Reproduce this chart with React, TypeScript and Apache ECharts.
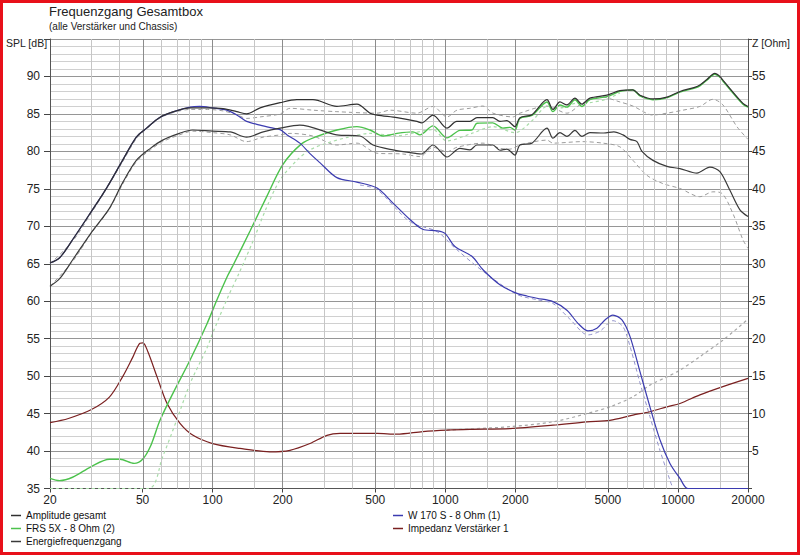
import React, { useEffect, useRef } from "react";
import * as echarts from "echarts";

// ---------- data (frequency in Hz, level in dB / impedance in Ohm) ----------
const FREQ_LABELS = [20, 50, 100, 200, 500, 1000, 2000, 5000, 10000, 20000];
const GRID_MAJOR = [50, 100, 200, 500, 1000, 2000, 5000, 10000];
const GRID_MINOR = [30, 40, 60, 70, 80, 90, 150, 300, 400, 600, 700, 800, 900, 1500, 3000, 4000, 6000, 7000, 8000, 9000, 15000];

const ampGesamt: [number, number][] = [
  [20, 65.1], [22, 65.8], [25, 68.2], [30, 71.9], [35, 75.1], [41, 78.8], [47, 81.9], [52, 83.1], [59, 84.5], [68, 85.3],
  [80, 85.8], [95, 85.8], [111, 85.7], [127, 85.3], [140, 85.0], [160, 85.8], [195, 86.5], [230, 86.9], [270, 86.9], [342, 86.0],
  [417, 86.3], [475, 85.1], [509, 84.85], [620, 84.5], [755, 84.0], [790, 83.8], [885, 84.85], [1017, 83.1], [1120, 84.0], [1276, 84.0],
  [1368, 84.5], [1600, 84.5], [1717, 84.0], [1840, 84.1], [1992, 83.3], [2093, 84.5], [2357, 84.9], [2735, 86.9], [2902, 85.6], [3110, 86.6],
  [3333, 86.2], [3608, 87.1], [3866, 86.3], [4184, 87.1], [4950, 87.5], [5632, 88.1], [6400, 88.2], [6866, 87.5], [7806, 87.0], [8967, 87.25],
  [10200, 88.0], [11800, 88.55], [12424, 88.86], [13314, 89.6], [14400, 90.4], [15144, 90.0], [15600, 89.5], [17226, 87.9], [19022, 86.4], [20000, 86.0],
];

const energie: [number, number][] = [
  [20, 62.0], [22, 63.0], [25, 65.5], [30, 69.1], [36, 72.4], [41, 75.8], [47, 78.8], [54, 80.4], [61, 81.5], [72, 82.4],
  [82, 82.85], [100, 82.7], [119, 82.6], [140, 81.9], [165, 82.6], [195, 83.1], [237, 83.5], [342, 82.2], [430, 82.05], [489, 80.85],
  [596, 80.2], [755, 79.7], [790, 79.65], [885, 80.85], [1017, 79.25], [1156, 80.4], [1276, 80.2], [1368, 80.85], [1600, 80.85], [1717, 80.15],
  [1840, 80.3], [1992, 79.5], [2093, 80.85], [2357, 81.1], [2735, 83.1], [2902, 81.75], [3110, 82.5], [3333, 82.0], [3608, 82.8], [3866, 82.0],
  [4184, 82.5], [4800, 82.45], [5300, 82.6], [5802, 82.2], [6219, 81.6], [6664, 81.3], [7003, 80.0], [7806, 78.8], [8967, 78.0], [10200, 77.7],
  [12060, 77.1], [13716, 77.9], [15144, 77.3], [16722, 74.8], [18465, 72.2], [20000, 71.3],
];

const w170: [number, number][] = [
  [20, 65.1], [22, 65.8], [25, 68.2], [30, 71.9], [35, 75.1], [41, 78.8], [47, 81.9], [52, 83.1], [59, 84.5], [68, 85.3],
  [80, 85.9], [88, 86.0], [100, 85.8], [115, 85.5], [128, 84.8], [140, 84.0], [160, 83.5], [182, 83.1], [195, 82.9], [209, 82.2],
  [237, 81.1], [262, 79.7], [289, 78.5], [342, 76.5], [417, 75.9], [509, 75.1], [596, 73.1], [705, 70.9], [800, 69.6], [921, 69.4],
  [997, 69.05], [1100, 67.3], [1301, 66.0], [1452, 64.2], [1717, 62.2], [2032, 61.05], [2243, 60.7], [2477, 60.4], [2902, 59.95], [3333, 58.8],
  [3716, 57.05], [4102, 56.05], [4484, 56.4], [4854, 57.5], [5254, 58.15], [5745, 57.5], [6219, 55.3], [6866, 50.6], [7577, 45.9], [8366, 41.5],
  [9238, 38.35], [10200, 36.35], [11032, 35.0], [20000, 35.0],
];

const frs: [number, number][] = [
  [20, 36.35], [22, 36.05], [25, 36.5], [30, 37.9], [36, 38.9], [40, 38.9], [46, 38.35], [50, 38.9], [54, 40.6], [59.4, 44.1],
  [67.5, 47.7], [80, 52.15], [94.6, 57.0], [104.4, 60.2], [116, 63.4], [122, 64.7], [145, 69.4], [171, 74.0], [200, 78.2], [241, 81.0],
  [281, 82.0], [342, 82.85], [417, 83.3], [475, 82.85], [540, 82.05], [620, 82.4], [726, 82.6], [778, 82.2], [885, 83.4], [1017, 81.8],
  [1156, 82.8], [1300, 82.85], [1368, 83.75], [1600, 83.8], [1768, 83.1], [1896, 83.2], [1992, 82.85], [2093, 84.4], [2357, 84.8], [2735, 86.6],
  [2902, 85.3], [3110, 86.2], [3333, 85.9], [3608, 86.9], [3866, 86.0], [4184, 86.9], [4950, 87.3], [5632, 88.0], [6400, 88.2], [6866, 87.4],
  [7806, 86.9], [8967, 87.15], [10200, 87.9], [11800, 88.45], [12424, 88.75], [13314, 89.5], [14400, 90.3], [15144, 89.9], [15600, 89.4], [17226, 87.8],
  [19022, 86.3], [20000, 85.9],
];

const impedanz: [number, number][] = [
  [20, 8.8], [24, 9.35], [30, 10.5], [36, 12.2], [41, 14.9], [45.5, 17.6], [48.7, 19.4], [50.2, 19.45], [52.7, 18.25], [57.7, 14.9],
  [63.7, 11.35], [72.4, 8.7], [82.4, 7.1], [100, 6.0], [131, 5.35], [176, 4.9], [215, 5.1], [262, 6.0], [310, 7.1], [353, 7.35],
  [509, 7.35], [620, 7.25], [800, 7.6], [1017, 7.8], [1276, 7.9], [1896, 8.0], [2902, 8.45], [4062, 8.9], [5100, 9.1], [6405, 9.8],
  [7577, 10.25], [8967, 10.9], [10200, 11.35], [12424, 12.5], [15600, 13.6], [20000, 14.7],
];

// reference (dashed / dotted) curves
const ampRef: [number, number][] = [
  [20, 65.0], [25, 68.0], [30, 71.7], [35, 75.0], [41, 78.6], [47, 81.7], [52, 83.0], [59, 84.4], [68, 85.2], [80, 85.6],
  [95, 85.6], [111, 85.4], [127, 84.9], [140, 84.4], [160, 84.6], [195, 85.0], [215, 85.75], [270, 85.5], [342, 85.3], [509, 85.1],
  [578, 85.5], [755, 85.1], [885, 86.0], [1017, 84.6], [1122, 85.5], [1276, 85.75], [1452, 86.05], [1603, 85.1], [1953, 84.6], [2093, 85.1],
  [2735, 86.05], [3333, 85.1], [3866, 86.4], [4620, 87.3], [5632, 86.6], [6405, 86.05], [7806, 84.85], [8967, 85.1], [10506, 85.5], [12424, 86.0],
  [14128, 86.95], [15600, 86.2], [17924, 83.3], [20000, 81.6],
];

const energieRef: [number, number][] = [
  [20, 62.0], [25, 65.3], [30, 69.0], [36, 72.3], [41, 75.6], [47, 78.6], [54, 80.2], [61, 81.3], [72, 82.2], [82, 82.7],
  [100, 82.5], [119, 82.2], [140, 81.3], [165, 81.9], [195, 82.2], [215, 82.4], [270, 82.05], [342, 80.85], [417, 81.1], [509, 79.75],
  [658, 79.65], [778, 79.3], [885, 80.55], [1017, 79.95], [1122, 80.55], [1452, 81.1], [1717, 80.4], [1896, 80.3], [2093, 80.85], [2735, 81.5],
  [2902, 81.1], [3866, 81.3], [4759, 81.1], [5632, 80.6], [6405, 78.8], [7355, 76.8], [8618, 75.7], [10200, 75.05], [12424, 73.95], [14128, 74.6],
  [15447, 74.4], [17226, 71.7], [19022, 68.2], [20000, 67.05],
];

const frsRef: [number, number][] = [
  [20, 35.0], [53, 35.0], [61, 39.25], [70, 44.1], [80, 49.0], [95, 53.9], [100, 55.7], [115, 60.2], [131, 64.0], [149, 68.0],
  [171, 72.6], [195, 76.2], [230, 78.8], [262, 80.2], [310, 81.1], [389, 81.95], [475, 82.4], [620, 82.1], [885, 82.9], [1017, 81.4],
  [1300, 82.4], [1600, 83.3], [1992, 82.5], [2400, 84.3], [2735, 86.0], [3110, 85.8], [3608, 86.4], [4184, 86.5], [4950, 87.0], [5632, 87.8],
];

const w170Ref: [number, number][] = [
  [430, 75.5], [509, 74.9], [705, 70.6], [921, 69.3], [1100, 67.1], [1452, 64.0], [2032, 60.9], [2477, 60.2], [2902, 59.7], [3434, 57.6],
  [4102, 55.5], [4620, 56.0], [5254, 57.4], [5802, 56.6], [6219, 54.0], [6866, 49.1], [7577, 44.6], [8366, 40.1], [9238, 36.1], [9517, 35.0],
];

const impRef: [number, number][] = [
  [1017, 7.8], [1276, 7.95], [1896, 8.25], [2902, 8.9], [4062, 10.0], [5100, 10.9], [6405, 12.25], [7577, 13.8], [8967, 14.9], [10200, 15.8],
  [12424, 17.6], [15600, 19.8], [20000, 22.6],
];

// ---------- helpers ----------
const FONT = '"Liberation Sans", Arial, Helvetica, sans-serif';
const lg = (f: number) => Math.log10(f);
const toXY = (arr: [number, number][]) => arr.map(([f, v]) => [lg(f), v]);

function curve(name: string, data: [number, number][], color: string, extra: any = {}) {
  return {
    name,
    type: "line",
    data: toXY(data),
    showSymbol: false,
    symbol: "none",
    smooth: 0.3,
    clip: true,
    silent: true,
    lineStyle: { color, width: 1.2, ...(extra.lineStyle || {}) },
    itemStyle: { color },
    z: extra.z ?? 5,
    yAxisIndex: extra.yAxisIndex ?? 0,
  };
}

export default function App() {
  const ref = useRef<HTMLDivElement>(null);

  useEffect(() => {
    if (!ref.current) return;
    const chart = echarts.init(ref.current, undefined, { renderer: "svg" });

    const dash = { type: [4, 3], width: 1 };
    const option: any = {
      animation: false,
      backgroundColor: "#ffffff",
      textStyle: { fontFamily: FONT },
      title: {
        text: "Frequenzgang Gesamtbox",
        subtext: "(alle Verstärker und Chassis)",
        left: 49,
        top: 5,
        padding: 0,
        itemGap: 3,
        textStyle: { fontSize: 13, fontWeight: "normal", color: "#222", fontFamily: FONT },
        subtextStyle: { fontSize: 10, color: "#222", fontFamily: FONT },
      },
      grid: { left: 50, right: 52, top: 39, bottom: 66.5 },
      xAxis: {
        type: "value",
        min: lg(20),
        max: lg(20000),
        axisLine: { show: true, lineStyle: { color: "#555", width: 1 } },
        axisTick: { show: true, length: 4, lineStyle: { color: "#444" }, customValues: FREQ_LABELS.map(lg) },
        axisLabel: {
          customValues: FREQ_LABELS.map(lg),
          formatter: (v: number) => String(Math.round(Math.pow(10, v))),
          fontSize: 12,
          color: "#222",
          margin: 5,
          fontFamily: FONT,
        },
        splitLine: { show: false },
      },
      yAxis: [
        {
          type: "value",
          min: 35,
          max: 95,
          interval: 5,
          axisLine: { show: true, lineStyle: { color: "#555" } },
          axisTick: { show: true, length: 6, lineStyle: { color: "#444" } },
          axisLabel: {
            formatter: (v: number) => (v === 95 ? "" : String(v)),
            fontSize: 12,
            color: "#222",
            margin: 10,
            fontFamily: FONT,
          },
          splitLine: { show: true, lineStyle: { color: "#969696", width: 1 } },
          minorTick: { show: false, splitNumber: 5 },
          minorSplitLine: { show: true, lineStyle: { color: "#d0d0d0", width: 1 } },
        },
        {
          type: "value",
          min: 0,
          max: 60,
          interval: 5,
          position: "right",
          axisLine: { show: true, lineStyle: { color: "#555" } },
          axisTick: { show: true, length: 4, lineStyle: { color: "#444" } },
          axisLabel: {
            formatter: (v: number) => (v === 0 || v === 60 ? "" : String(v)),
            fontSize: 12,
            color: "#222",
            margin: 4,
            fontFamily: FONT,
          },
          splitLine: { show: false },
        },
      ],
      legend: [
        {
          orient: "vertical",
          left: 11,
          top: 510,
          padding: 0,
          itemGap: 2,
          itemWidth: 10,
          itemHeight: 1.5,
          icon: "rect",
          selectedMode: false,
          textStyle: { fontSize: 10, color: "#111", fontFamily: FONT, lineHeight: 11 },
          data: ["Amplitude gesamt", "FRS 5X - 8 Ohm (2)", "Energiefrequenzgang"],
        },
        {
          orient: "vertical",
          left: 393,
          top: 510,
          padding: 0,
          itemGap: 2,
          itemWidth: 10,
          itemHeight: 1.5,
          icon: "rect",
          selectedMode: false,
          textStyle: { fontSize: 10, color: "#111", fontFamily: FONT, lineHeight: 11 },
          data: ["W 170 S - 8 Ohm (1)", "Impedanz Verstärker 1"],
        },
      ],
      graphic: [
        {
          type: "text",
          left: 6,
          top: 37,
          style: { text: "SPL [dB]", fontSize: 10.5, fill: "#222", fontFamily: FONT },
        },
        {
          type: "text",
          left: 752,
          top: 37,
          style: { text: "Z [Ohm]", fontSize: 10.5, fill: "#222", fontFamily: FONT },
        },
      ],
      series: [
        {
          name: "grid",
          type: "line",
          data: [[lg(20), 35]],
          symbol: "none",
          lineStyle: { opacity: 0 },
          silent: true,
          z: 1,
          markLine: {
            silent: true,
            symbol: ["none", "none"],
            label: { show: false },
            lineStyle: { type: "solid", width: 1 },
            data: [
              ...GRID_MINOR.map((f) => ({ xAxis: lg(f), lineStyle: { color: "#c6c6c6", type: "solid", width: 1 } })),
              ...GRID_MAJOR.map((f) => ({ xAxis: lg(f), lineStyle: { color: "#8c8c8c", type: "solid", width: 1 } })),
            ],
          },
        },
        curve("ampRef", ampRef, "#9c9c9c", { lineStyle: dash, z: 2 }),
        curve("energieRef", energieRef, "#9c9c9c", { lineStyle: dash, z: 2 }),
        curve("frsRef", frsRef, "#a9dca9", { lineStyle: { type: [3, 3], width: 1.2 }, z: 2 }),
        curve("w170Ref", w170Ref, "#9494cc", { lineStyle: dash, z: 2 }),
        curve("impRef", impRef, "#a6a6a6", { lineStyle: { type: [3, 3], width: 1.2 }, z: 2, yAxisIndex: 1 }),
        curve("Impedanz Verstärker 1", impedanz, "#7a2020", { z: 3, yAxisIndex: 1 }),
        curve("FRS 5X - 8 Ohm (2)", frs, "#4cc24c", { z: 4, lineStyle: { width: 1.4 } }),
        curve("W 170 S - 8 Ohm (1)", w170, "#3b3bb0", { z: 5 }),
        curve("Energiefrequenzgang", energie, "#3a3a3a", { z: 6 }),
        curve("Amplitude gesamt", ampGesamt, "#303030", { z: 7 }),
      ],
    };

    chart.setOption(option);
    return () => chart.dispose();
  }, []);

  return (
    <div style={{ position: "fixed", left: 0, top: 0, width: 800, height: 555, background: "#fff" }}>
      <div ref={ref} style={{ position: "absolute", left: 0, top: 0, width: 800, height: 555 }} />
      <div
        style={{
          position: "absolute",
          left: 0,
          top: 0,
          width: 800,
          height: 555,
          boxSizing: "border-box",
          border: "3px solid #e8101a",
          pointerEvents: "none",
        }}
      />
    </div>
  );
}
